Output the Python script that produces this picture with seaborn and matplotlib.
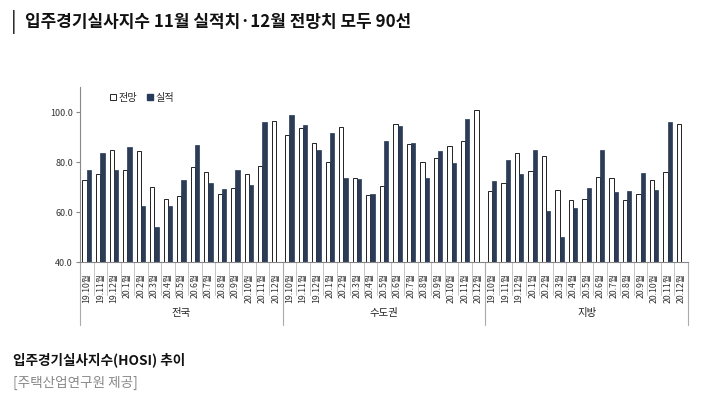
import numpy as np
import pandas as pd
import matplotlib
matplotlib.use("Agg")
import matplotlib.pyplot as plt
import seaborn as sns
from matplotlib.patches import Patch
from matplotlib.transforms import blended_transform_factory

sns.set_theme(style="white")
plt.rcParams['font.family'] = ['Noto Sans CJK KR', 'DejaVu Sans']

regions = ["전국", "수도권", "지방"]
months = ["19.10", "19.11", "19.12", "20.1", "20.2", "20.3", "20.4", "20.5",
          "20.6", "20.7", "20.8", "20.9", "20.10", "20.11", "20.12"]
series = ["전망", "실적"]

forecast_nat = [72.7, 75.3, 84.7, 76.9, 84.3, 69.9, 65.1, 66.3, 77.9, 76.1, 67.3, 69.6, 75.3, 78.4, 96.4]
actual_nat = [76.9, 83.5, 76.9, 85.9, 62.5, 54.0, 62.5, 72.9, 86.7, 71.6, 69.3, 76.9, 70.7, 96.1, np.nan]
forecast_cap = [90.8, 93.7, 87.5, 79.9, 94.1, 73.7, 66.9, 70.5, 95.2, 87.1, 80.1, 81.7, 86.3, 88.4, 100.9]
actual_cap = [98.7, 94.9, 84.9, 91.7, 73.7, 73.1, 67.3, 88.4, 94.4, 87.5, 73.7, 84.3, 79.6, 97.1, np.nan]
forecast_loc = [68.4, 71.7, 83.7, 76.3, 82.5, 68.9, 64.7, 65.1, 74.0, 73.7, 64.9, 67.3, 72.9, 76.1, 95.3]
actual_loc = [72.3, 80.8, 75.1, 84.7, 60.3, 50.1, 61.7, 69.6, 84.9, 68.1, 68.4, 75.6, 68.7, 96.1, np.nan]

forecasts = [forecast_nat, forecast_cap, forecast_loc]
actuals = [actual_nat, actual_cap, actual_loc]

rows = []
for r, fc, ac in zip(regions, forecasts, actuals):
    for m, f, a in zip(months, fc, ac):
        rows.append({"key": f"{r}|{m}", "series": "전망", "value": f})
        rows.append({"key": f"{r}|{m}", "series": "실적", "value": a})
df = pd.DataFrame(rows)
order = [f"{r}|{m}" for r in regions for m in months]

fig = plt.figure(figsize=(7.13, 3.96), dpi=100)
ax = fig.add_axes([80/713, 1-262/396, 608/713, (262-87)/396])

navy = "#263a5a"
sns.barplot(data=df, x="key", y="value", hue="series", order=order,
            hue_order=series, palette={"전망": "white", "실적": navy},
            width=0.63, gap=0, ax=ax, legend=False, errorbar=None)
for p in ax.containers[0]:
    p.set_edgecolor("#222222")
    p.set_linewidth(0.7)
for p in ax.containers[1]:
    p.set_edgecolor(navy)
    p.set_linewidth(0.5)

ax.set_ylim(40, 110)
ax.set_yticks([40, 60, 80, 100])
ax.set_yticklabels([f"{v:.1f}" for v in [40, 60, 80, 100]], fontsize=6.5, color="#333333")
ax.set_xlim(-0.5, len(order) - 0.5)
ax.set_xticks(range(len(order)))
ax.set_xticklabels([m + "월" for r in regions for m in months], rotation=90,
                   fontsize=6.3, color="#333333")
ax.set_xlabel("")
ax.set_ylabel("")
for s in ["top", "right"]:
    ax.spines[s].set_visible(False)
for s in ["left", "bottom"]:
    ax.spines[s].set_color("#888888")
    ax.spines[s].set_linewidth(0.8)
ax.tick_params(axis="y", left=True, length=3, color="#888888", width=0.8, pad=2)
ax.tick_params(axis="x", bottom=False, pad=2)

trans = blended_transform_factory(ax.transData, ax.transAxes)
n = len(order)
for i in range(n + 1):
    x = i - 0.5
    if i % len(months) == 0:
        ax.plot([x, x], [0, -0.36], transform=trans, color="#aaaaaa", lw=0.8, clip_on=False)
    else:
        ax.plot([x, x], [0, -0.19], transform=trans, color="#bbbbbb", lw=0.6, clip_on=False)
for gi, r in enumerate(regions):
    cx = gi * len(months) + (len(months) - 1) / 2
    ax.text(cx, -0.29, r, transform=trans, ha="center", va="center", fontsize=7.5, color="#222222")

handles = [Patch(facecolor="white", edgecolor="#222222", linewidth=0.7, label="전망"),
           Patch(facecolor=navy, edgecolor=navy, label="실적")]
ax.legend(handles=handles, loc="upper left", bbox_to_anchor=(0.035, 1.02), ncol=2,
          frameon=False, fontsize=7.3, handlelength=0.6, handleheight=0.6,
          handletextpad=0.2, columnspacing=1.0)

fig.text(11/713, 1-22/396, "|", fontsize=15, va="center", ha="left", color="#111111")
fig.text(25/713, 1-22/396, "입주경기실사지수 11월 실적치·12월 전망치 모두 90선",
         fontsize=12.2, fontweight="bold", va="center", ha="left", color="#111111")
fig.text(13/713, 1-360/396, "입주경기실사지수(HOSI) 추이", fontsize=9.8, fontweight="bold",
         va="center", ha="left", color="#111111")
fig.text(13/713, 1-383/396, "[주택산업연구원 제공]", fontsize=9.8, va="center", ha="left",
         color="#888888")

fig.savefig("out.png", dpi=100)
